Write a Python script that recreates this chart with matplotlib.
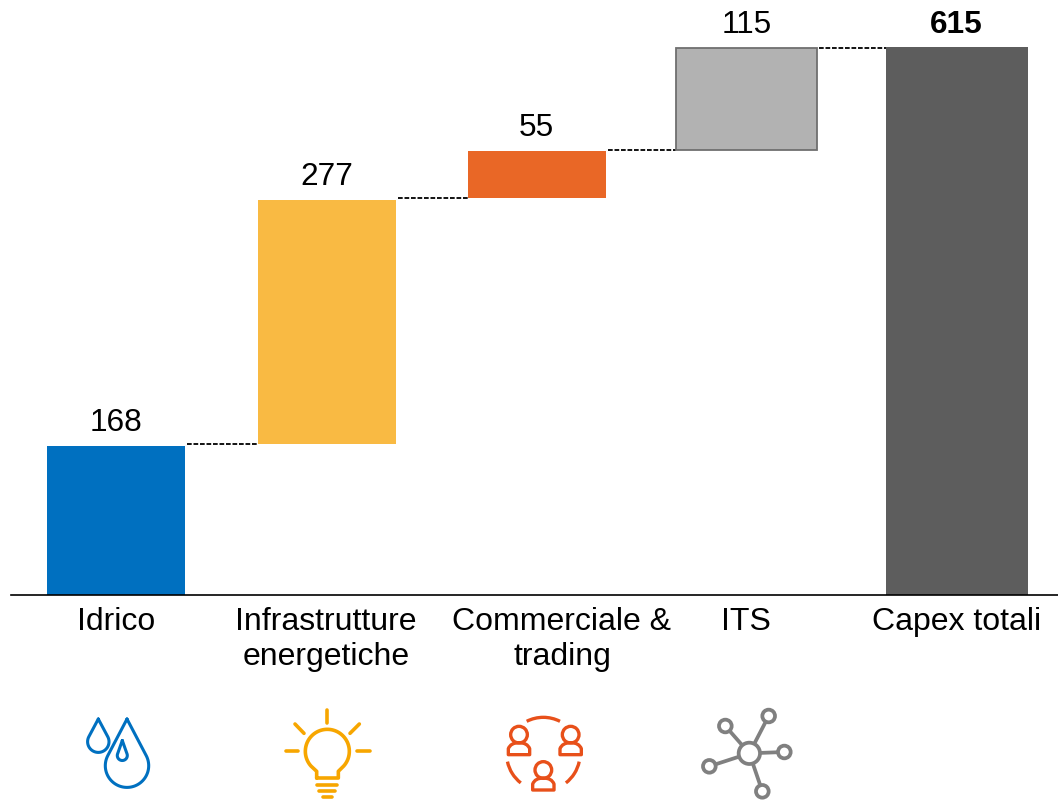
import numpy as np
import matplotlib
matplotlib.use("Agg")
import matplotlib.pyplot as plt
from matplotlib.patches import Circle, Arc, PathPatch
from matplotlib.path import Path

plt.rcParams['font.family'] = ['Liberation Sans', 'DejaVu Sans']

# data
categorie = ["Idrico", "Infrastrutture\nenergetiche", "Commerciale &\ntrading", "ITS", "Capex totali"]
valori = [168, 277, 55, 115, 615]
base = [0, 169.5, 445.5, 499.5, 0]
cima = [167.5, 443.5, 498.5, 614, 615]
colori = ["#0070C0", "#F9BA43", "#E96726", "#B2B2B2", "#5D5D5D"]

# layout (pixels)
W, H = 1058, 803
Y0 = 595.8
SCALA = 0.891
centri = [116, 326.5, 536.5, 746.5, 956.5]
larghezze = [138, 138, 138, 141, 142]
label_x = [116, 326, 562, 746, 957]
FONT = 22.8

fig = plt.figure(figsize=(W / 100, H / 100), dpi=100)
ax = fig.add_axes([0, 0, 1, 1])
ax.set_xlim(0, W)
ax.set_ylim(-(H - Y0) / SCALA, Y0 / SCALA)
ax.axis("off")

for i in range(5):
    edge = "#6F6F6F" if i == 3 else colori[i]
    lw = 1.3 if i == 3 else 0
    ax.bar(centri[i], cima[i] - base[i], larghezze[i], bottom=base[i], color=colori[i],
           edgecolor=edge, linewidth=lw, zorder=2)
    peso = "bold" if i == 4 else "normal"
    ax.annotate(str(valori[i]), (centri[i], cima[i]), xytext=(0, 11), textcoords="offset points",
                ha="center", va="baseline", fontsize=FONT, fontweight=peso, color="black")

# connettori
for i in range(4):
    livello = base[i + 1] if i < 3 else cima[i]
    ax.plot([centri[i] + larghezze[i] / 2 + 2, centri[i + 1] - larghezze[i + 1] / 2],
            [livello, livello], color="black", lw=1.3, dashes=(2.6, 1), zorder=1)

ax.plot([11, W], [0, 0], color="black", lw=1.2, zorder=3)

# etichette categorie
for i in range(5):
    righe = categorie[i].split("\n")
    for r in range(len(righe)):
        y_px = 618.5 + 35 * r
        ax.text(label_x[i], (Y0 - y_px) / SCALA, righe[r], ha="center", va="center_baseline",
                fontsize=23, color="black")

# icone, in pixel
ic = fig.add_axes([0, 0, 1, 1])
ic.set_xlim(0, W)
ic.set_ylim(H, 0)
ic.axis("off")
ic.patch.set_alpha(0)


def linea(x, y, col, lw=2.2):
    ic.plot(x, y, color=col, lw=lw, solid_capstyle="round", solid_joinstyle="round")


def goccia(cx, tip, cy, r, col):
    d = cy - tip
    a = np.arccos(r / d)
    t = np.linspace(a, np.pi * 2 - a, 60)
    # angolo misurato dalla verticale verso l'alto
    x = cx + r * np.sin(t)
    y = cy - r * np.cos(t)
    x = np.r_[cx, x, cx]
    y = np.r_[tip, y, tip]
    linea(x, y, col, 2.2)


# gocce
BLU = "#0070C0"
goccia(98.3, 720, 742.7, 10.7, BLU)
goccia(127, 720, 766.7, 21.7, BLU)
goccia(122.3, 741.5, 756.5, 5, BLU)

# lampadina
GIALLO = "#F7A600"
ox, oy = 60, 695


def zx(v):
    return ox + np.array(v) / 3


def zy(v):
    return oy + np.array(v) / 3


t = np.radians(np.linspace(222, -42, 60))
bx = np.r_[770, 770, 802 + 66 * np.cos(t), 835, 835, 770]
by = np.r_[252, 232, 172 - 66 * np.sin(t), 232, 252, 252]
linea(zx(bx), zy(by), GIALLO, 2.6)
raggi = [([802, 802], [47, 88]), ([677, 715], [172, 172]), ([890, 930], [172, 172]),
         ([705, 732], [90, 118]), ([898, 870], [90, 118]),
         ([772, 830], [272, 272]), ([778, 825], [290, 290]), ([788, 815], [310, 310])]
for x, y in raggi:
    linea(zx(x), zy(y), GIALLO, 2.6)

# persone
ARANCIO = "#E8501A"
ox, oy = 480, 695
for a1, a2 in [(63, 117), (192, 232), (308, 348)]:
    ic.add_patch(Arc((zx(190), zy(180)), 220 / 3, 220 / 3, theta1=360 - a2, theta2=360 - a1,
                     color=ARANCIO, lw=2.4))


def persona(cx, cy):
    # cy = centro testa
    ic.add_patch(Circle((zx(cx), zy(cy)), 25 / 3, fc="none", ec=ARANCIO, lw=2.4))
    v = [(-32, 60), (-32, 42), (-25, 24), (0, 24), (25, 24), (32, 42), (32, 60), (-32, 60)]
    cod = [Path.MOVETO, Path.LINETO, Path.CURVE3, Path.CURVE3, Path.CURVE3, Path.CURVE3, Path.LINETO, Path.CLOSEPOLY]
    pts = [(zx(cx + p[0]), zy(cy + p[1])) for p in v]
    ic.add_patch(PathPatch(Path(pts, cod), fc="none", ec=ARANCIO, lw=2.4, joinstyle="round"))


persona(117, 122)
persona(272, 122)
persona(190, 228)

# rete
GRIGIO = "#808080"
nodi = [(736, 96), (866, 66), (913, 174), (688, 217), (847, 292)]
for nx, ny in nodi:
    linea(zx([808, nx]), zy([178, ny]), GRIGIO, 2.7)
    ic.add_patch(Circle((zx(nx), zy(ny)), 19 / 3, fc="white", ec=GRIGIO, lw=2.7, zorder=3))
ic.add_patch(Circle((zx(808), zy(178)), 32 / 3, fc="white", ec=GRIGIO, lw=2.7, zorder=3))

fig.savefig("out.png", dpi=100)
